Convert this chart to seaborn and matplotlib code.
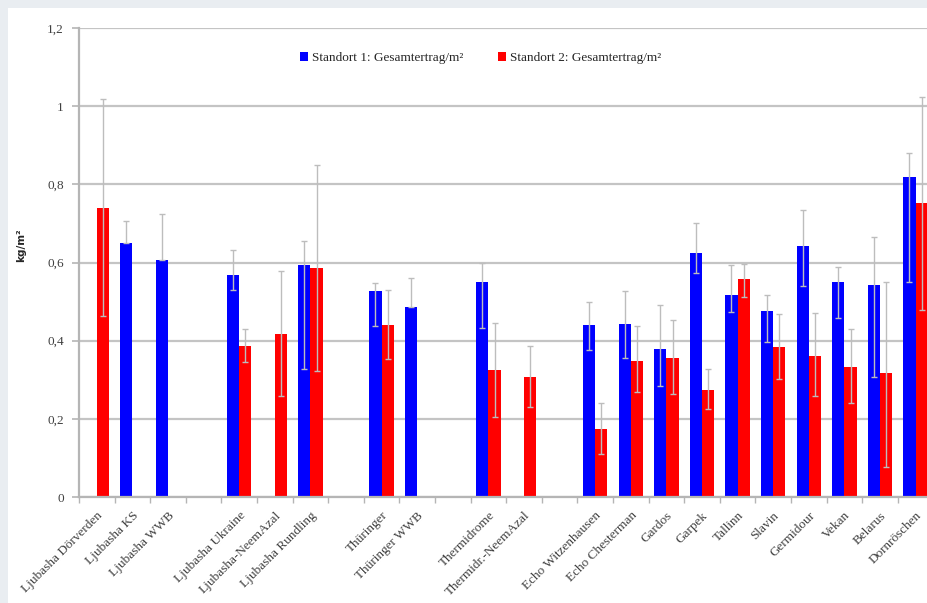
import numpy as np
import pandas as pd
import matplotlib.pyplot as plt
from matplotlib.patches import Rectangle
import seaborn as sns

# Sorten (leere Namen = Lücken zwischen den Gruppen)
sorten = ["Ljubasha Dörverden", "Ljubasha KS", "Ljubasha WWB", " ",
          "Ljubasha Ukraine", "Ljubasha-NeemAzal", "Ljubasha Rundling", "  ",
          "Thüringer", "Thüringer WWB", "   ",
          "Thermidrome", "Thermidr.-NeemAzal", "    ",
          "Echo Witzenhausen", "Echo Chesterman", "Gardos", "Garpek", "Tallinn",
          "Slavin", "Germidour", "Vekan", "Belarus", "Dornröschen"]

nan = np.nan
standort1 = [nan, 0.649, 0.606, nan,
             0.568, nan, 0.593, nan,
             0.527, 0.485, nan,
             0.551, nan, nan,
             0.441, 0.443, 0.378, 0.624, 0.516, 0.475, 0.642, 0.550, 0.543, 0.820]
err1_hi = [nan, 0.058, 0.117, nan,
           0.063, nan, 0.061, nan,
           0.021, 0.076, nan,
           0.047, nan, nan,
           0.058, 0.085, 0.112, 0.078, 0.078, 0.042, 0.092, 0.039, 0.122, 0.059]
err1_lo = [nan, 0.0, 0.0, nan,
           0.039, nan, 0.266, nan,
           0.089, 0.0, nan,
           0.119, nan, nan,
           0.065, 0.088, 0.093, 0.052, 0.043, 0.079, 0.102, 0.093, 0.235, 0.269]

standort2 = [0.740, nan, nan, nan,
             0.387, 0.416, 0.585, nan,
             0.440, nan, nan,
             0.325, 0.308, nan,
             0.173, 0.349, 0.355, 0.274, 0.557, 0.383, 0.362, 0.333, 0.316, 0.752]
err2_hi = [0.278, nan, nan, nan,
           0.042, 0.162, 0.265, nan,
           0.090, nan, nan,
           0.119, 0.078, nan,
           0.067, 0.089, 0.098, 0.053, 0.039, 0.085, 0.108, 0.097, 0.235, 0.272]
err2_lo = [0.276, nan, nan, nan,
           0.041, 0.158, 0.263, nan,
           0.087, nan, nan,
           0.120, 0.077, nan,
           0.063, 0.081, 0.092, 0.050, 0.044, 0.080, 0.103, 0.092, 0.238, 0.273]

serien = ["Standort 1: Gesamtertrag/m²", "Standort 2: Gesamtertrag/m²"]
farben = ["#0000ff", "#ff0000"]

df = pd.DataFrame({
    "Sorte": sorten * 2,
    "Standort": [serien[0]] * len(sorten) + [serien[1]] * len(sorten),
    "Wert": standort1 + standort2,
}).dropna(subset=["Wert"])

sns.set_style("white")
plt.rcParams["font.family"] = ["Liberation Serif", "DejaVu Serif"]

fig = plt.figure(figsize=(9.28, 6.03), dpi=100)
fig.patch.set_facecolor("#e9edf1")
fig.patches.append(Rectangle((8 / 928, 0), 1, 1 - 8 / 603, transform=fig.transFigure,
                             facecolor="white", edgecolor="none", zorder=-10))

ax = fig.add_axes([79 / 928, 106 / 603, 854.4 / 928, 469 / 603])
ax.set_facecolor("none")

bar_w = 0.69
sns.barplot(data=df, x="Sorte", y="Wert", hue="Standort", order=sorten,
            hue_order=serien, palette=farben, saturation=1, width=bar_w,
            errorbar=None, linewidth=0, ax=ax, zorder=2)

# Fehlerbalken
pos = np.arange(len(sorten))
for k, (vals, lo, hi) in enumerate([(standort1, err1_lo, err1_hi),
                                     (standort2, err2_lo, err2_hi)]):
    off = (-1 if k == 0 else 1) * bar_w / 4
    v = np.array(vals)
    m = ~np.isnan(v)
    ax.errorbar(pos[m] + off, v[m],
                yerr=[np.array(lo)[m], np.array(hi)[m]],
                fmt="none", ecolor="#bdbdbd", elinewidth=1, capsize=2.5,
                capthick=1, zorder=3)

ax.set_xlim(-0.5, len(sorten) - 0.5)
ax.set_ylim(0, 1.2)
ax.set_yticks(np.arange(0, 1.21, 0.2))
ax.set_yticklabels(["0", "0,2", "0,4", "0,6", "0,8", "1", "1,2"],
                   fontsize=9.5, color="#404040")
ax.yaxis.grid(True, color="#c4c4c4", linewidth=1.6, zorder=0)
ax.set_axisbelow(True)
ax.tick_params(axis="y", length=5, width=1.2, color="#b5b5b5", pad=6, left=True)

ax.set_xticks(pos)
ax.set_xticklabels([s.strip() for s in sorten], rotation=45, ha="right",
                   rotation_mode="anchor", fontsize=9.5, color="#404040")
ax.tick_params(axis="x", which="major", length=0, pad=9)
ax.set_xticks(np.arange(-0.5, len(sorten), 1.0), minor=True)
ax.tick_params(axis="x", which="minor", length=4, width=1.0, color="#b5b5b5",
               bottom=True)
ax.set_xlabel("")

ax.set_ylabel("kg/m²", fontsize=7.5, fontweight="bold", family=["DejaVu Sans"])
ax.yaxis.set_label_coords(-0.062, 0.537)

for side in ["top", "right"]:
    ax.spines[side].set_visible(False)
for side in ["left", "bottom"]:
    ax.spines[side].set_color("#b5b5b5")
    ax.spines[side].set_linewidth(1.6)

sns.move_legend(ax, "center", bbox_to_anchor=(0.47, 0.936), ncol=2,
                frameon=False, title=None, fontsize=9.5, handlelength=0.6,
                handleheight=0.6, handletextpad=0.3, columnspacing=2.6)

plt.savefig("out.png", dpi=100)
